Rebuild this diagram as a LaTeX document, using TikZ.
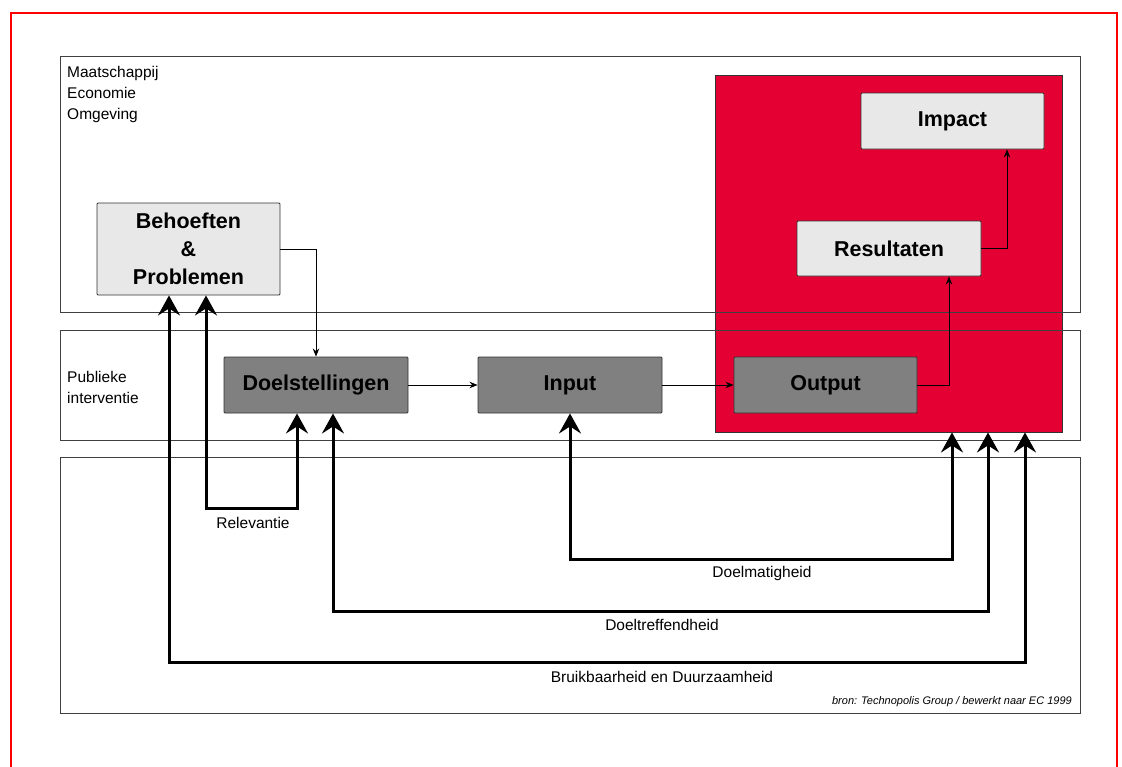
\documentclass[tikz,border=0pt]{standalone}
\usepackage{fontspec}
\setmainfont{Liberation Sans}
\usetikzlibrary{arrows.meta}

\definecolor{panelline}{gray}{0.25}
\definecolor{impactred}{RGB}{228,0,50}
\definecolor{lightbox}{RGB}{232,232,232}
\definecolor{darkbox}{RGB}{128,128,128}
\definecolor{framered}{RGB}{255,0,0}

\tikzset{
  panel/.style={draw=panelline, line width=1pt, inner sep=0pt},
  redzone/.style={draw=black!80, line width=0.9pt, fill=impactred, inner sep=0pt},
  stagebox/.style={draw=black!80, line width=0.9pt, rounded corners=1pt, inner sep=0pt,
    font=\fontsize{21.5}{28}\selectfont\bfseries, align=center, text=black},
  lightstage/.style={stagebox, fill=lightbox},
  darkstage/.style={stagebox, fill=darkbox},
  flow/.style={draw=black, line width=0.9pt, -{Stealth[length=8pt,width=6.5pt]}},
  evalloop/.style={draw=black, line width=3pt,
    {Stealth[length=20pt,width=22pt,inset=7pt]}-{Stealth[length=20pt,width=22pt,inset=7pt]}},
  looplabel/.style={font=\fontsize{15.5}{19}\selectfont, inner sep=0pt},
  sidelabel/.style={font=\fontsize{15.5}{21}\selectfont, align=left, anchor=north west, inner sep=0pt},
}

\begin{document}
\begin{tikzpicture}[x=1pt,y=-1pt]
  \useasboundingbox (0,0) rectangle (1122,766);
  \fill[white] (0,0) rectangle (1122,766);

  % outer frame
  \draw[framered, line width=2pt] (11,800) -- (11,13) -- (1117,13) -- (1117,800);

  % effect zone behind the panels
  \node[redzone, minimum width=347pt, minimum height=357pt] (effects) at (888.5,253.5) {};

  % the three layers
  \node[panel, minimum width=1020pt, minimum height=256pt] (society) at (570,184) {};
  \node[panel, minimum width=1020pt, minimum height=110pt] (intervention) at (570,385) {};
  \node[panel, minimum width=1020pt, minimum height=256pt] (evaluation) at (570,585) {};

  \node[sidelabel] (societylabel) at (67,66) {Maatschappij\\Economie\\Omgeving};
  \node[sidelabel] (interventionlabel) at (67,371) {Publieke\\interventie};

  % stages
  \node[lightstage, minimum width=183pt, minimum height=92pt] (needs) at (188.5,249)
    {Behoeften\\\&\\Problemen};
  \node[lightstage, minimum width=183pt, minimum height=56pt] (impact) at (952.5,121) {Impact};
  \node[lightstage, minimum width=184pt, minimum height=55pt] (results) at (889,248.5) {Resultaten};
  \node[darkstage, minimum width=184pt, minimum height=56pt] (goals) at (316,385) {Doelstellingen};
  \node[darkstage, minimum width=184pt, minimum height=56pt] (input) at (570,385) {Input};
  \node[darkstage, minimum width=183pt, minimum height=56pt] (output) at (825.5,385) {Output};

  % logical chain
  \draw[flow] (needs.east) -| (goals.north);
  \draw[flow] (goals) -- (input);
  \draw[flow] (input) -- (output);
  \draw[flow] (output.east) -| ([xshift=60pt]results.south);
  \draw[flow] (results.east) -| ([xshift=54.5pt]impact.south);

  % evaluation criteria
  \coordinate (relbase) at (253,508);
  \coordinate (effbase) at (762,559);
  \coordinate (doelbase) at (662,611);
  \coordinate (usebase) at (662,662);

  \draw[evalloop] ([xshift=17.5pt]needs.south) |- (relbase) -| ([xshift=-19pt]goals.south);
  \draw[evalloop] (input.south) |- (effbase) -| ([xshift=63.5pt]effects.south);
  \draw[evalloop] ([xshift=17pt]goals.south) |- (doelbase) -| ([xshift=99.5pt]effects.south);
  \draw[evalloop] ([xshift=-19.5pt]needs.south) |- (usebase) -| ([xshift=136.5pt]effects.south);

  \node[looplabel] (rellabel) at (253,523) {Relevantie};
  \node[looplabel] (efflabel) at (762,573) {Doelmatigheid};
  \node[looplabel] (doellabel) at (662,625) {Doeltreffendheid};
  \node[looplabel] (uselabel) at (662,677) {Bruikbaarheid en Duurzaamheid};

  \node[anchor=east, inner sep=0pt, font=\fontsize{11}{13}\selectfont\itshape] (source) at (1072,702)
    {bron: Technopolis Group / bewerkt naar EC 1999};
\end{tikzpicture}
\end{document}
